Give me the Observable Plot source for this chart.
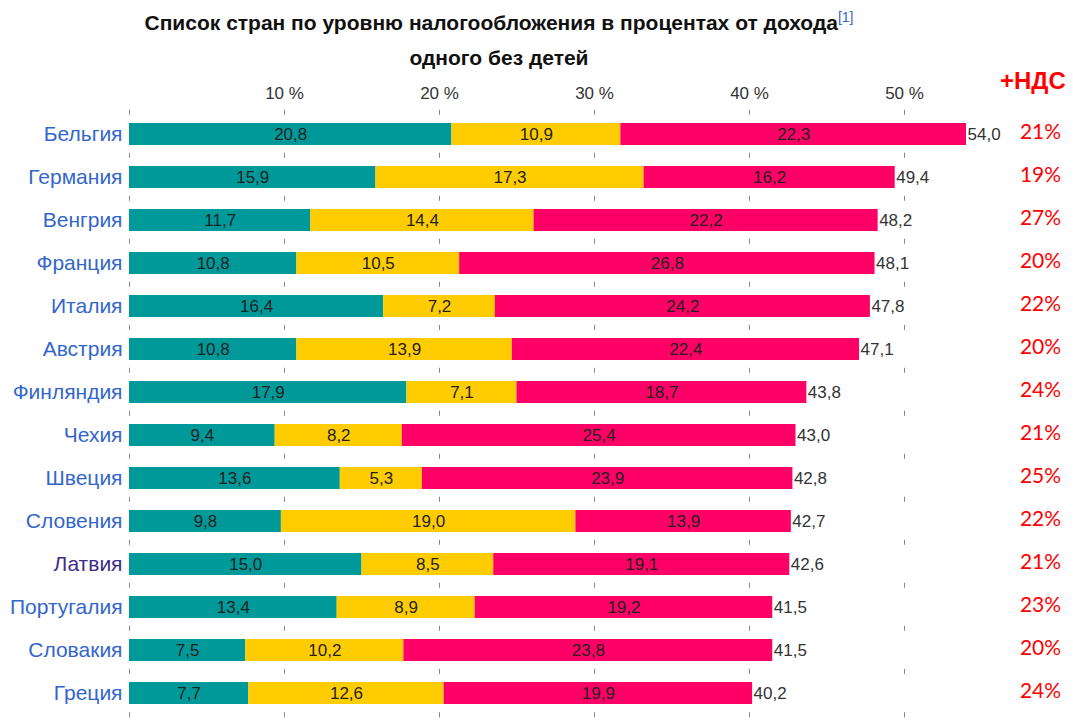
<!DOCTYPE html>
<html>
<head>
<meta charset="utf-8">
<script src="https://cdn.jsdelivr.net/npm/d3@7"></script>
<script src="https://cdn.jsdelivr.net/npm/@observablehq/plot@0.6"></script>
<style>
  body { margin: 0; background: #fff; font-family: "Liberation Sans", Arial, sans-serif; }
  #wrap { position: relative; width: 1073px; }
  #title { width: 998px; height: 75px; text-align: center; font-weight: bold; font-size: 21px; color: #111; line-height: 35px; padding-top: 0px; box-sizing: border-box; }
  #title sup { color: #3366cc; font-weight: normal; font-size: 14px; }
  #vathead { position: absolute; left: 1000px; top: 67px; color: #ff0000; font-weight: bold; font-size: 24px; font-family: "Liberation Sans", Arial, sans-serif; }
</style>
</head>
<body>
<div id="wrap">
  <div id="title">Список стран по уровню налогообложения в процентах от дохода<sup>[1]</sup><br>одного без детей</div>
  <div id="vathead">+НДС</div>
  <div id="chart"></div>
</div>
<script>
const countries = ["Бельгия","Германия","Венгрия","Франция","Италия","Австрия","Финляндия","Чехия","Швеция","Словения","Латвия","Португалия","Словакия","Греция"];
const seg1 = [20.8,15.9,11.7,10.8,16.4,10.8,17.9,9.4,13.6,9.8,15.0,13.4,7.5,7.7];
const seg2 = [10.9,17.3,14.4,10.5,7.2,13.9,7.1,8.2,5.3,19.0,8.5,8.9,10.2,12.6];
const seg3 = [22.3,16.2,22.2,26.8,24.2,22.4,18.7,25.4,23.9,13.9,19.1,19.2,23.8,19.9];
const totals = [54.0,49.4,48.2,48.1,47.8,47.1,43.8,43.0,42.8,42.7,42.6,41.5,41.5,40.2];
const vat = ["21%","19%","27%","20%","22%","20%","24%","21%","25%","22%","21%","23%","20%","24%"];
const parts = ["a","b","c"];
const partColors = ["#009999","#ffcc00","#ff0066"];
const xTicks = [10,20,30,40,50];
const gridVals = [0,10,20,30,40,50];

const fmt = v => v.toFixed(1).replace(".", ",");
const rows = [];
countries.forEach((c, i) => {
  [seg1[i], seg2[i], seg3[i]].forEach((v, j) => rows.push({country: c, part: parts[j], value: v}));
});
const totalRows = countries.map((c, i) => ({country: c, end: seg1[i] + seg2[i] + seg3[i], total: totals[i], vat: vat[i]}));
const gridRows = countries.flatMap(c => gridVals.map(g => ({country: c, g})));
const lastGrid = gridVals.map(g => ({country: countries[countries.length - 1], g}));

const plot = Plot.plot({
  width: 1073,
  height: 652,
  marginLeft: 129,
  marginRight: 14,
  marginTop: 25,
  marginBottom: 0,
  style: {fontFamily: "Liberation Sans, Arial, sans-serif", background: "#fff"},
  x: {domain: [0, 60], axis: null},
  y: {domain: countries, padding: 0.48, axis: null},
  color: {domain: parts, range: partColors},
  marks: [
    Plot.tickX(gridRows, {x: "g", y: "country", dy: -21.7, insetTop: 8.5, insetBottom: 8.5, stroke: "#888", strokeWidth: 1}),
    Plot.tickX(lastGrid, {x: "g", y: "country", dy: 21.7, insetTop: 8.5, insetBottom: 8.5, stroke: "#888", strokeWidth: 1}),
    Plot.barX(rows, Plot.stackX({x: "value", y: "country", fill: "part"})),
    Plot.text(rows, Plot.stackX({x: "value", y: "country", text: d => fmt(d.value), fill: "#222", fontSize: 17})),
    Plot.text(totalRows, {x: "end", y: "country", text: d => fmt(d.total), textAnchor: "start", dx: 1, fill: "#333", fontSize: 17}),
    Plot.text(totalRows, {y: "country", text: "vat", frameAnchor: "right", textAnchor: "middle", dx: -19, dy: -2, fill: "#ff0000", fontSize: 21, fontFamily: "Lato, sans-serif"}),
    Plot.axisX(xTicks, {anchor: "top", tickSize: 0, tickPadding: 2, tickFormat: d => d + " %", fontSize: 17, fill: "#333", label: null}),
    Plot.axisY({tickSize: 0, tickPadding: 7, fontSize: 21, label: null, fill: d => d === "Латвия" ? "#3d2c8c" : "#3366cc"})
  ]
});
document.getElementById("chart").appendChild(plot);
</script>
</body>
</html>
